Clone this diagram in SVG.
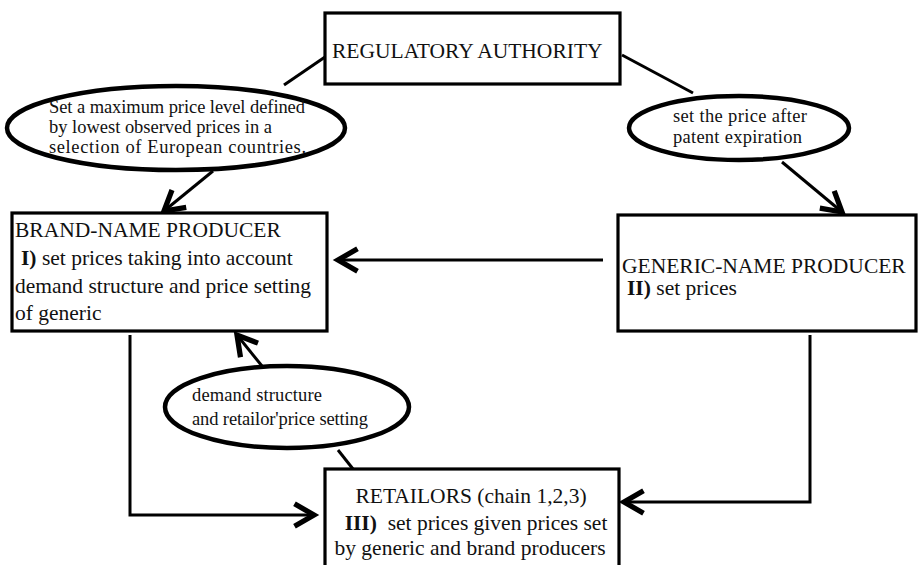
<svg xmlns="http://www.w3.org/2000/svg" width="919" height="565" viewBox="0 0 919 565">
<style>
.box{fill:#fff;stroke:#000;stroke-width:3.2}
.ell{fill:#fff;stroke:#000;stroke-width:4.5}
.t{font-family:"Liberation Serif","Times New Roman",serif;font-size:21.5px;fill:#111}
.s{font-family:"Liberation Serif","Times New Roman",serif;font-size:18.5px;fill:#111}
.b{font-weight:bold}
.c{fill:none;stroke:#000;stroke-width:3}
</style>
<defs>
<marker id="arr" markerUnits="userSpaceOnUse" markerWidth="30" markerHeight="30" viewBox="-16 -10 20 20" refX="0" refY="0" orient="auto">
<path d="M-13,-7.5 L0,0 L-13,7.5" fill="none" stroke="#000" stroke-width="3.5"/>
</marker>
</defs>
<rect width="919" height="565" fill="#fff"/>
<g id="connectors">
<line class="c" x1="325" y1="57" x2="284" y2="85"/>
<line class="c" x1="213" y1="171" x2="164" y2="211" marker-end="url(#arr)"/>
<line class="c" x1="622" y1="55" x2="693" y2="93"/>
<line class="c" x1="782" y1="162" x2="842" y2="212" marker-end="url(#arr)"/>
<line class="c" x1="603" y1="260" x2="338" y2="260" marker-end="url(#arr)"/>
<line class="c" x1="262" y1="366" x2="237" y2="335" marker-end="url(#arr)"/>
<line class="c" x1="338" y1="450" x2="353" y2="469"/>
<polyline class="c" points="130,335 130,515 314,515" marker-end="url(#arr)"/>
<polyline class="c" points="810,335 810,502 624,502" marker-end="url(#arr)"/>
</g>
<g id="regulatory">
<rect class="box" x="325" y="13" width="295" height="71"/>
<text class="t" x="332" y="58">REGULATORY AUTHORITY</text>
</g>
<g id="label-max-price">
<ellipse class="ell" cx="176" cy="128" rx="169" ry="42"/>
<text class="s" x="49" y="113" textLength="256" lengthAdjust="spacing">Set a maximum price level defined</text>
<text class="s" x="49" y="133" textLength="223" lengthAdjust="spacing">by lowest observed prices in a</text>
<text class="s" x="49" y="153" textLength="257" lengthAdjust="spacing">selection of European countries.</text>
</g>
<g id="label-patent">
<ellipse class="ell" cx="739" cy="128" rx="110" ry="32"/>
<text class="s" x="673" y="122" textLength="134" lengthAdjust="spacing">set the price after</text>
<text class="s" x="673" y="143" textLength="129" lengthAdjust="spacing">patent expiration</text>
</g>
<g id="brand">
<rect class="box" x="12" y="213" width="315" height="118"/>
<text class="t" x="15" y="237">BRAND-NAME PRODUCER</text>
<text class="t" x="21" y="265"><tspan class="b">I)</tspan> set prices taking into account</text>
<text class="t" x="15" y="293">demand structure and price setting</text>
<text class="t" x="15" y="320">of generic</text>
</g>
<g id="generic">
<rect class="box" x="618" y="215" width="298" height="116"/>
<text class="t" x="622" y="273">GENERIC-NAME PRODUCER</text>
<text class="t" x="627" y="295"><tspan class="b">II)</tspan> set prices</text>
</g>
<g id="label-demand">
<ellipse class="ell" cx="287" cy="407" rx="122" ry="41"/>
<text class="s" x="192" y="401" textLength="130" lengthAdjust="spacing">demand structure</text>
<text class="s" x="192" y="425" textLength="176" lengthAdjust="spacing">and retailor'price setting</text>
</g>
<g id="retailors">
<rect class="box" x="325" y="469" width="294" height="110"/>
<text class="t" x="471" y="503" text-anchor="middle">RETAILORS (chain 1,2,3)</text>
<text class="t" x="476" y="530" text-anchor="middle"><tspan class="b">III)</tspan>&#160; set prices given prices set</text>
<text class="t" x="470" y="555" text-anchor="middle">by generic and brand producers</text>
</g>
</svg>
